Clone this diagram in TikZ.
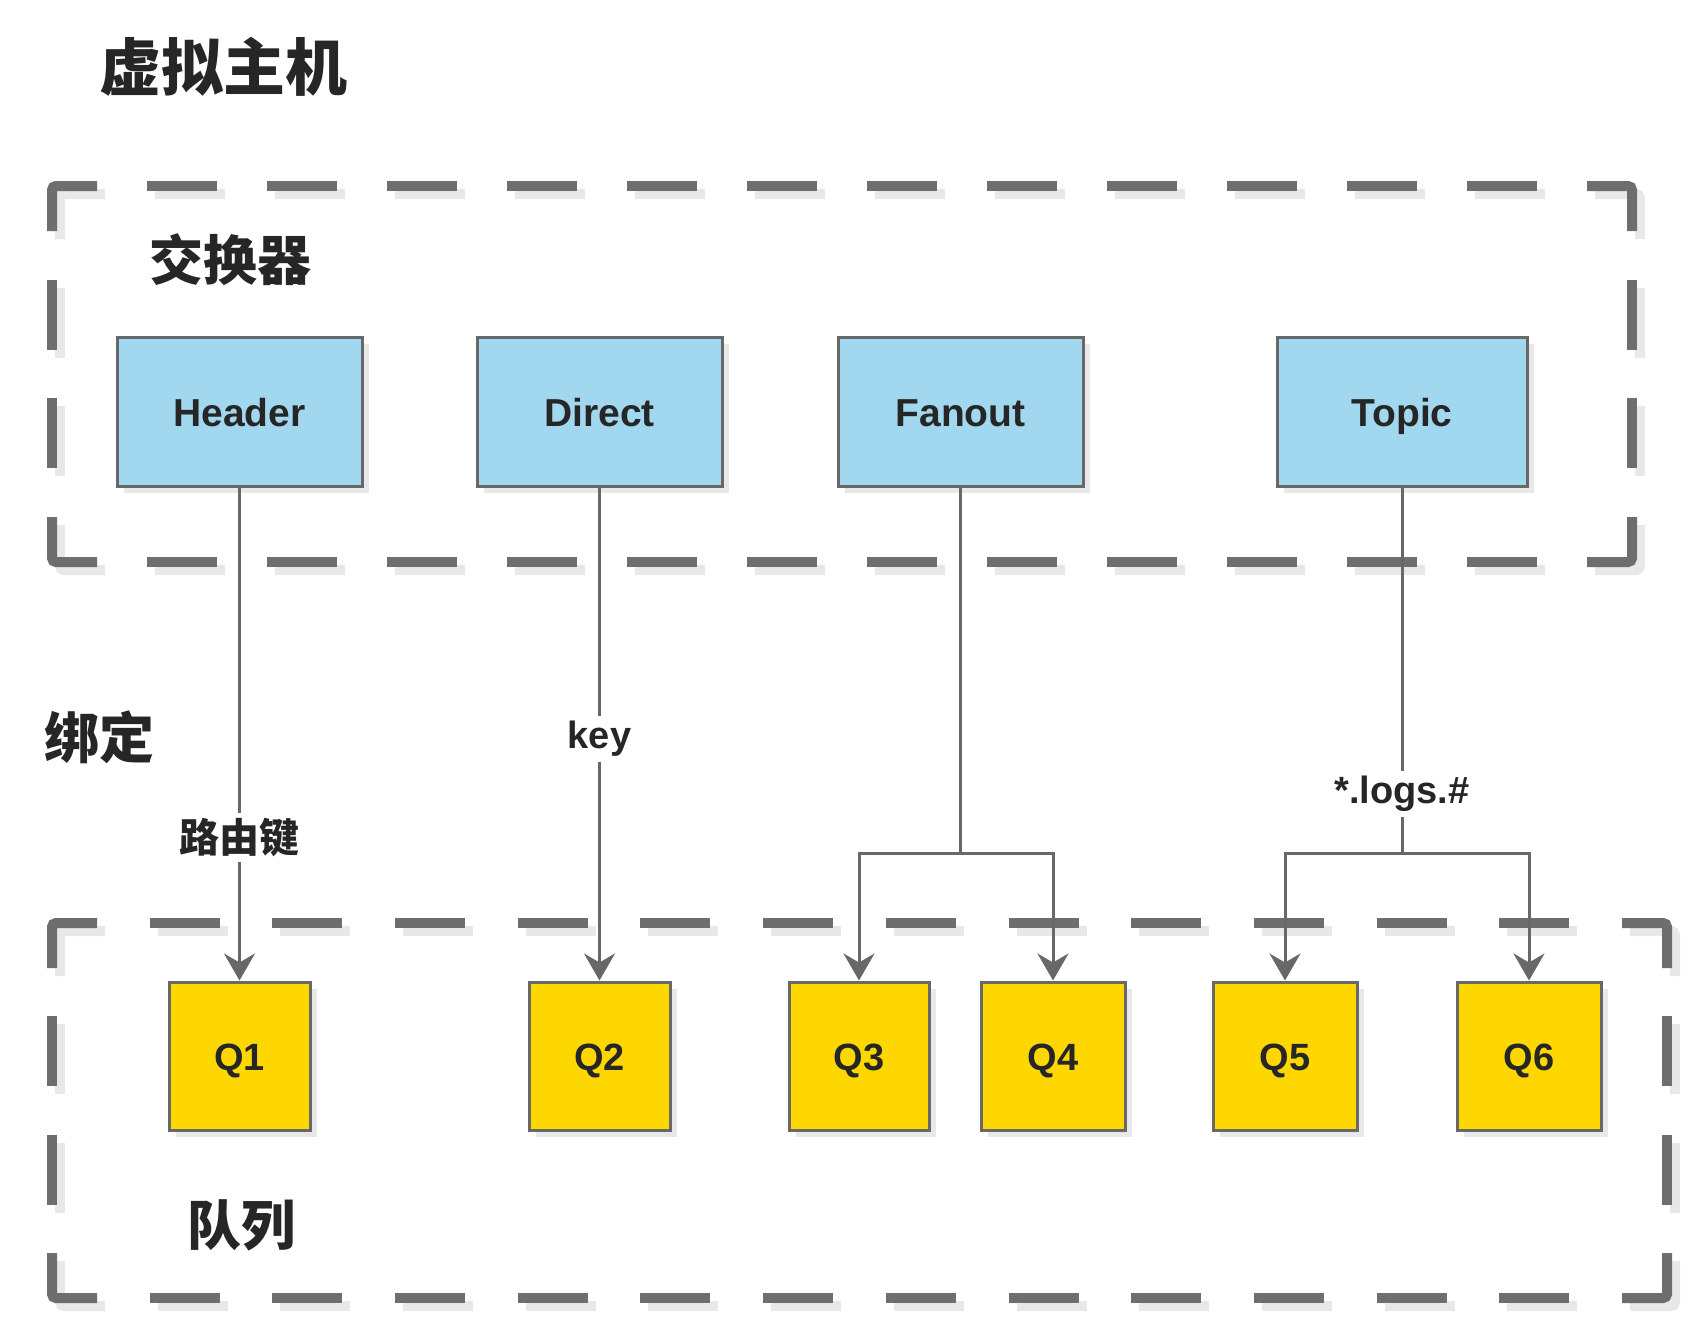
\documentclass[tikz,border=0pt]{standalone}
\usepackage{fontspec}
\setmainfont{Liberation Sans}
\newfontfamily\cjk{Noto Sans CJK SC}
\usetikzlibrary{arrows.meta,shadows}
\definecolor{dashgray}{HTML}{6E6E6E}
\definecolor{shadowgray}{HTML}{E8E8E8}
\definecolor{boxblue}{HTML}{A2D8EF}
\definecolor{boxyellow}{HTML}{FFD700}
\definecolor{edgegray}{HTML}{686868}
\definecolor{txt}{HTML}{262626}
\tikzset{
  frm/.style={draw=dashgray, line width=10pt, line cap=butt, rounded corners=4pt},
  frmshadow/.style={draw=shadowgray, line width=10pt, line cap=butt, rounded corners=4pt},
  boxshadow/.style={drop shadow={shadow xshift=7pt, shadow yshift=-7pt, fill=shadowgray, opacity=1}},
  exbox/.style={draw=edgegray, line width=3pt, fill=boxblue, minimum width=245pt, minimum height=149pt,
    text height=29pt, text depth=0pt,
    font=\fontsize{39}{40}\selectfont\bfseries, text=txt, boxshadow},
  qbox/.style={draw=edgegray, line width=3pt, fill=boxyellow, minimum width=141pt, minimum height=148pt,
    text height=28pt, text depth=0pt,
    font=\fontsize{38}{40}\selectfont\bfseries, text=txt, boxshadow},
  title/.style={font=\cjk\bfseries, text=txt, inner sep=0pt},
  conn/.style={draw=edgegray, line width=3pt, -{Stealth[length=27pt, width=31pt, inset=9pt]}},
  plain/.style={draw=edgegray, line width=3pt},
  lbl/.style={fill=white, text=txt, inner sep=5pt, font=\fontsize{38}{40}\selectfont\bfseries},
  cjklbl/.style={fill=white, text=txt, inner sep=5pt, font=\cjk\fontsize{40}{44}\selectfont\bfseries},
}
% dashed frame: #1 style, #2 x1, #3 y1, #4 x2, #5 y2, #6 dashes per horizontal side, #7 per vertical side
\newcommand{\dframe}[7]{%
  \pgfmathsetmacro\gh{((#4-#2)-90-70*#6)/(#6+1)}%
  \pgfmathsetmacro\gv{((#5-#3)-90-70*#7)/(#7+1)}%
  \draw[#1] (#2,#3+45) -- (#2,#3) -- (#2+45,#3);
  \draw[#1] (#4-45,#3) -- (#4,#3) -- (#4,#3+45);
  \draw[#1] (#4,#5-45) -- (#4,#5) -- (#4-45,#5);
  \draw[#1] (#2+45,#5) -- (#2,#5) -- (#2,#5-45);
  \draw[#1, dash pattern=on 70pt off \gh pt] (#2+45+\gh,#3) -- (#4-45-\gh,#3);
  \draw[#1, dash pattern=on 70pt off \gh pt] (#2+45+\gh,#5) -- (#4-45-\gh,#5);
  \draw[#1, dash pattern=on 70pt off \gv pt] (#2,#3+45+\gv) -- (#2,#5-45-\gv);
  \draw[#1, dash pattern=on 70pt off \gv pt] (#4,#3+45+\gv) -- (#4,#5-45-\gv);
}
\begin{document}
\begin{tikzpicture}[x=1pt,y=-1pt]
\useasboundingbox[fill=white] (0,0) rectangle (1700,1328);

% dashed containers with shadows
\dframe{frmshadow}{60}{194}{1640}{570}{12}{2}
\dframe{frm}{52}{186}{1632}{562}{12}{2}
\dframe{frmshadow}{60}{931}{1675}{1306}{12}{2}
\dframe{frm}{52}{923}{1667}{1298}{12}{2}

% titles
\node[title, font=\cjk\bfseries\fontsize{62}{66}\selectfont] (vhost) at (223,67) {虚拟主机};
\node[title, font=\cjk\bfseries\fontsize{54}{58}\selectfont] (exch) at (230,260) {交换器};
\node[title, font=\cjk\bfseries\fontsize{55}{58}\selectfont] (bind) at (99,737) {绑定};
\node[title, font=\cjk\bfseries\fontsize{54}{58}\selectfont] (queue) at (241,1225) {队列};

% exchanges
\node[exbox] (header) at (239.5,411.5) {Header};
\node[exbox] (direct) at (599.5,411.5) {Direct};
\node[exbox] (fanout) at (960.5,411.5) {Fanout};
\node[exbox, minimum width=250pt] (topic) at (1402,411.5) {Topic};

% queues
\node[qbox] (q1) at (239.5,1056) {Q1};
\node[qbox] (q2) at (599.5,1056) {Q2};
\node[qbox, minimum width=140pt] (q3) at (859,1056) {Q3};
\node[qbox, minimum width=144pt] (q4) at (1053,1056) {Q4};
\node[qbox, minimum width=144pt] (q5) at (1285,1056) {Q5};
\node[qbox, minimum width=144pt] (q6) at (1529,1056) {Q6};

% junctions
\coordinate (fj) at (960.5,853);
\coordinate (tj) at (1402,853);

% connectors
\draw[conn] (header.south) -- node[cjklbl, pos=0.71] (rk) {路由键} (q1.north);
\draw[conn] (direct.south) -- node[lbl, pos=0.51] (key) {key} (q2.north);
\draw[plain] (fanout.south) -- (fj);
\draw[conn] (fj) -| (q3.north);
\draw[conn] (fj) -| (q4.north);
\draw[plain] (topic.south) -- node[lbl, pos=0.838] (logs) {*.logs.\#} (tj);
\draw[conn] (tj) -| (q5.north);
\draw[conn] (tj) -| (q6.north);
\end{tikzpicture}
\end{document}
